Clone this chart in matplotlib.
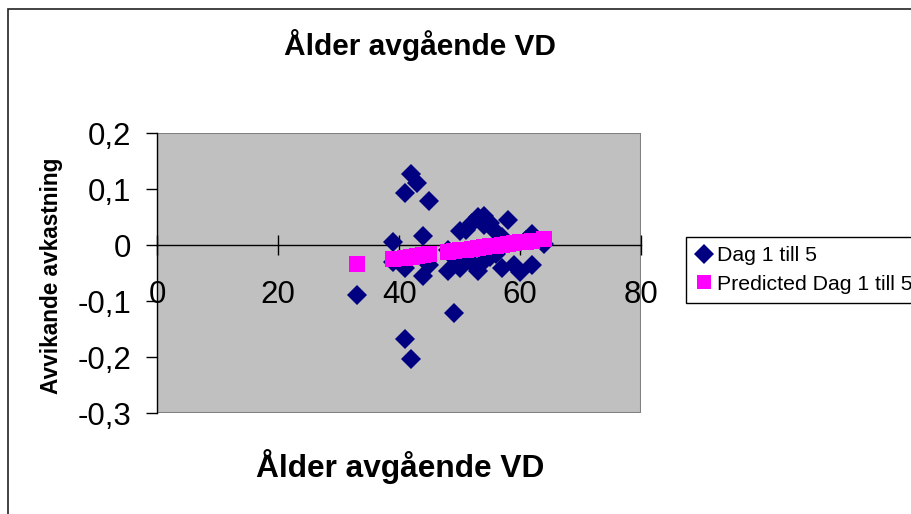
import matplotlib
matplotlib.use("Agg")
import matplotlib.pyplot as plt
from matplotlib.lines import Line2D
from matplotlib.patches import Rectangle

plt.rcParams['font.family'] = ['Liberation Sans', 'DejaVu Sans']

# Observed values: age of departing CEO vs abnormal return (day 1 to 5)
age = [33, 39, 39, 41, 41, 41, 42, 42, 43, 44, 44, 45, 45,
       48, 48, 49, 49, 50, 50, 51, 51, 52, 52, 53, 53,
       54, 54, 54, 55, 55, 56, 56, 57, 57, 58, 59, 60, 61, 62, 62, 64]
ret = [-0.088, 0.006, -0.030, 0.093, -0.040, -0.167, 0.127, -0.203, 0.112, 0.016, -0.055, 0.079, -0.036,
       -0.008, -0.045, -0.022, -0.121, 0.025, -0.040, 0.028, -0.026, 0.040, -0.032, 0.050, -0.046,
       0.052, 0.036, -0.028, 0.040, -0.020, 0.024, -0.016, 0.015, -0.041, 0.046, -0.035, -0.047, 0.010, 0.020, -0.035, 0.003]

pred_age = [33, 39, 41, 42, 43, 44, 45, 48, 49, 50, 51, 52, 53, 54, 55, 56, 57, 58, 59, 60, 61, 62, 64]
pred_ret = [-0.0333, -0.0247, -0.0219, -0.0204, -0.0190, -0.0176, -0.0162, -0.0119, -0.0104, -0.0090,
            -0.0076, -0.0061, -0.0047, -0.0033, -0.0019, -0.0004, 0.0010, 0.0024, 0.0039, 0.0053,
            0.0067, 0.0082, 0.0110]

x_ticks = [0, 20, 40, 60, 80]
y_ticks = [-0.3, -0.2, -0.1, 0, 0.1, 0.2]
y_tick_labels = ['-0,3', '-0,2', '-0,1', '0', '0,1', '0,2']

W, H = 911, 514
fig = plt.figure(figsize=(W / 100, H / 100), dpi=100)

# outer chart frame (only top and left edges visible)
fig.patches.append(Rectangle((8 / W, -0.5), 1.5, 1.5 - 9 / H, transform=fig.transFigure,
                             fill=False, edgecolor='#222222', linewidth=1.2))

left, right, top, bottom = 157.3, 641, 133.3, 413.3
ax = fig.add_axes([left / W, 1 - bottom / H, (right - left) / W, (bottom - top) / H])
ax.set_facecolor('#C0C0C0')

ax.plot(age, ret, linestyle='none', marker='D', markersize=10, color='#000080',
        markeredgewidth=0, zorder=3)
ax.plot(pred_age, pred_ret, linestyle='none', marker='s', markersize=12, color='#FF00FF',
        markeredgewidth=0, zorder=4)

ax.set_xlim(0, 80)
ax.set_ylim(-0.3, 0.2)

# plot area border
ax.add_patch(Rectangle((0, 0), 1, 1, transform=ax.transAxes, fill=False,
                       edgecolor='#808080', linewidth=1.5, zorder=1))

for s in ['top', 'right']:
    ax.spines[s].set_visible(False)
ax.spines['left'].set_color('black')
ax.spines['left'].set_linewidth(1)
ax.spines['bottom'].set_position(('data', 0))
ax.spines['bottom'].set_color('black')
ax.spines['bottom'].set_linewidth(1)

ax.set_xticks(x_ticks)
ax.set_xticklabels([str(t) for t in x_ticks])
ax.set_yticks(y_ticks)
ax.set_yticklabels(y_tick_labels)
ax.tick_params(axis='x', direction='inout', length=14, width=1, pad=18, labelsize=22.5)
ax.tick_params(axis='y', direction='out', length=8, width=1, pad=10.8, labelsize=22.5)

fig.text(419.5 / W, 1 - 55 / H, 'Ålder avgående VD', ha='center', va='baseline',
         fontsize=21.5, fontweight='bold')
fig.text(400 / W, 1 - 477 / H, 'Ålder avgående VD', ha='center', va='baseline',
         fontsize=22.8, fontweight='bold')
fig.text(52 / W, 1 - 276 / H, 'Avvikande avkastning', ha='center', va='center',
         rotation=90, fontsize=16.3, fontweight='bold')

handles = [Line2D([], [], linestyle='none', marker='D', markersize=10, color='#000080', markeredgewidth=0),
           Line2D([], [], linestyle='none', marker='s', markersize=10, color='#FF00FF', markeredgewidth=0)]
leg = fig.legend(handles, ['Dag 1 till 5', 'Predicted Dag 1 till 5'], loc='upper left',
                 bbox_to_anchor=(685.7 / W, 1 - 236.7 / H), borderaxespad=0, fontsize=15.3,
                 frameon=True, fancybox=False, shadow=False, edgecolor='black',
                 handlelength=0.85, handletextpad=0.15, borderpad=0.45, labelspacing=0.45,
                 numpoints=1)
leg.get_frame().set_linewidth(1)
leg.get_frame().set_alpha(1)

fig.savefig('out.png', dpi=100)
